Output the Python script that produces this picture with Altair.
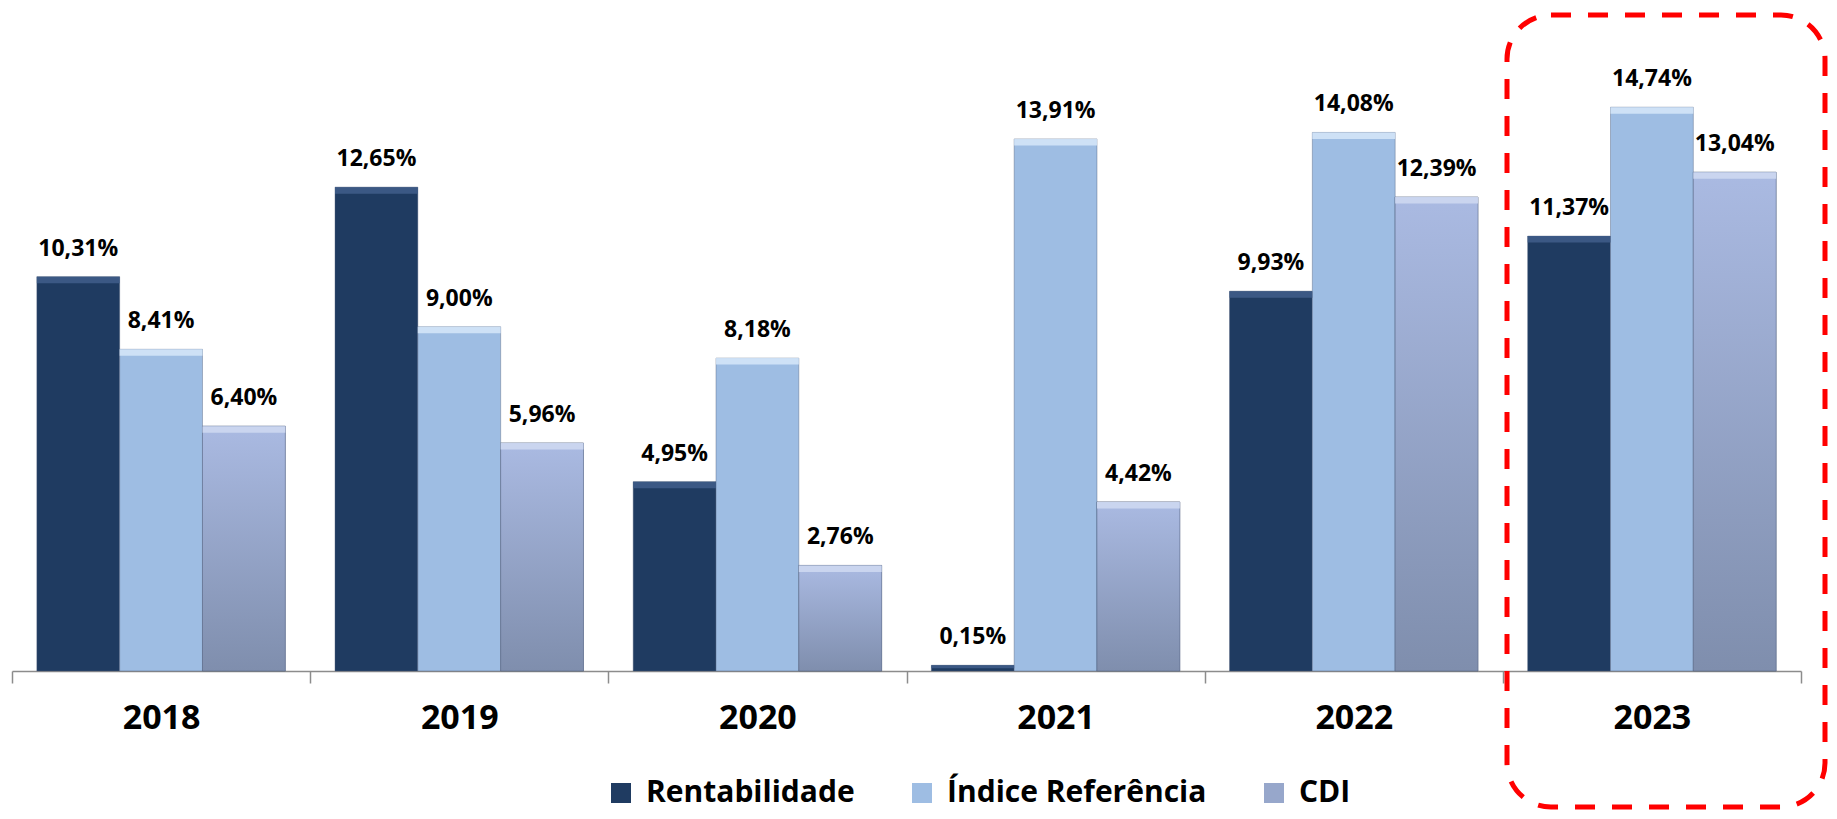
import altair as alt
import pandas as pd

# ---------------- data ----------------
YEARS = ["2018", "2019", "2020", "2021", "2022", "2023"]
SERIES = ["Rentabilidade", "Índice Referência", "CDI"]
RENTABILIDADE = [10.31, 12.65, 4.95, 0.15, 9.93, 11.37]
INDICE_REF = [8.41, 9.00, 8.18, 13.91, 14.08, 14.74]
CDI = [6.40, 5.96, 2.76, 4.42, 12.39, 13.04]

rows = []
for s, vals in zip(SERIES, [RENTABILIDADE, INDICE_REF, CDI]):
    for y, v in zip(YEARS, vals):
        rows.append({"year": y, "series": s, "value": v})
df = pd.DataFrame(rows)

# ---------------- style ----------------
FONT = "Open Sans"
W, H = 1789, 612
BASE_COLORS = ["#1F3B61", "#9EBDE3", "#97A7CB"]
HI_COLORS = ["#3E5C88", "#D3E4F7", "#CDD8F1"]
AXIS_GRAY = "#8C8C8C"

x_enc = alt.X(
    "year:N",
    sort=YEARS,
    scale=alt.Scale(paddingInner=0, paddingOuter=0),
    axis=alt.Axis(
        title=None, labelAngle=0, labelFont=FONT, labelFontSize=34,
        labelFontWeight="bold", labelColor="black", labelPadding=18,
        tickBand="extent", tickSize=12, tickColor=AXIS_GRAY, tickWidth=1.5,
        domainColor=AXIS_GRAY, domainWidth=1.5, grid=False,
    ),
)
xo_enc = alt.XOffset(
    "series:N", sort=SERIES,
    scale=alt.Scale(domain=SERIES, paddingInner=0, paddingOuter=0.3),
)
y_scale = alt.Scale(domain=[0, 16], nice=False, zero=True)

base = alt.Chart(df)

bars = base.mark_bar(stroke="#4A5A78", strokeWidth=0.8, strokeOpacity=0.5).encode(
    x=x_enc,
    xOffset=xo_enc,
    y=alt.Y("value:Q", scale=y_scale, axis=None),
    color=alt.Color(
        "series:N",
        scale=alt.Scale(domain=SERIES, range=BASE_COLORS),
        legend=alt.Legend(
            title=None, orient="none", legendX=594, legendY=719,
            direction="horizontal", symbolType="square", symbolSize=400,
            symbolStrokeWidth=0, labelFont=FONT, labelFontSize=30,
            labelFontWeight="bold", labelColor="black", labelLimit=600,
            columnPadding=52, labelOffset=10, padding=0,
        ),
    ),
)

cdi_grad = base.transform_filter(alt.datum.series == "CDI").mark_bar(
    color=alt.Gradient(
        gradient="linear",
        stops=[
            alt.GradientStop(color="#AABAE2", offset=0),
            alt.GradientStop(color="#7F8EAD", offset=1),
        ],
        x1=0, x2=0, y1=0, y2=1,
    ),
    stroke="#4A5A78", strokeWidth=0.8, strokeOpacity=0.5,
).encode(x=x_enc, xOffset=xo_enc, y=alt.Y("value:Q", scale=y_scale, axis=None))

hi = base.transform_calculate(
    top2="max(datum.value * 0.5, datum.value - 0.17)"
).mark_bar(opacity=0.9).encode(
    x=x_enc,
    xOffset=xo_enc,
    y=alt.Y("value:Q", scale=y_scale, axis=None),
    y2="top2:Q",
    fill=alt.Fill("series:N", scale=alt.Scale(domain=SERIES, range=HI_COLORS), legend=None),
)

text = base.transform_calculate(
    label="replace(format(datum.value, '.2f'), '.', ',') + '%'"
).mark_text(
    font=FONT, fontSize=23, fontWeight="bold", color="black",
    baseline="alphabetic", dy=-21,
).encode(
    x=x_enc, xOffset=xo_enc,
    y=alt.Y("value:Q", scale=y_scale, axis=None),
    text="label:N",
)

box = alt.Chart(pd.DataFrame({"k": [0]})).mark_rect(
    filled=False, fill="transparent", stroke="#FF0000", strokeWidth=5,
    strokeDash=[20, 17], cornerRadius=44,
).encode(
    x=alt.value(1495), x2=alt.value(1813),
    y=alt.value(-44), y2=alt.value(748),
)

chart = alt.layer(bars, cdi_grad, hi, text, box).properties(
    width=W, height=H,
    autosize=alt.AutoSizeParams(type="none"),
    padding={"left": 4, "top": 51, "right": 27, "bottom": 139},
).configure_view(strokeWidth=0)

chart.save("out.html", embed_options={"renderer": "svg", "actions": False})
